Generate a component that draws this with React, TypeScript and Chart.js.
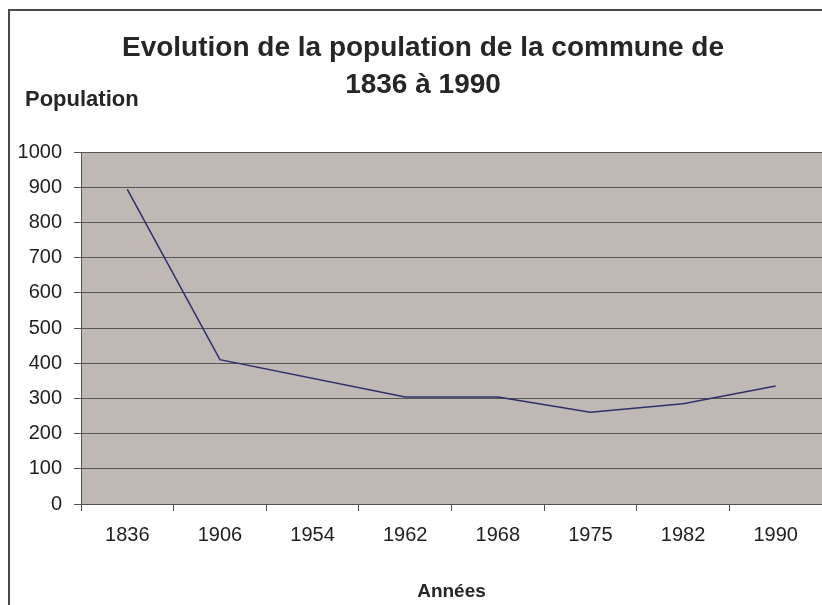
import React, { useEffect, useRef } from "react";
import { Chart, registerables } from "chart.js";

Chart.register(...registerables);

const years = ["1836", "1906", "1954", "1962", "1968", "1975", "1982", "1990"];
const population: (number | null)[] = [894, 410, null, 304, 304, 261, 285, 335];
const yMin = 0;
const yMax = 1000;
const yStep = 100;
const titleLines = ["Evolution de la population de la commune de", "1836 à 1990"];
const yAxisTitle = "Population";
const xAxisTitle = "Années";

const FONT = "'Liberation Sans', Arial, Helvetica, sans-serif";

export default function App() {
  const ref = useRef<HTMLCanvasElement>(null);

  useEffect(() => {
    const canvas = ref.current!;
    const decor = {
      id: "decor",
      beforeDraw(chart: any) {
        const { ctx, chartArea } = chart;
        ctx.save();
        ctx.fillStyle = "#ffffff";
        ctx.fillRect(0, 0, chart.width, chart.height);
        ctx.fillStyle = "#C0B8B5";
        ctx.fillRect(
          chartArea.left,
          chartArea.top,
          chartArea.right - chartArea.left,
          chartArea.bottom - chartArea.top
        );
        ctx.restore();
      },
      afterDraw(chart: any) {
        const { ctx, chartArea } = chart;
        ctx.save();
        ctx.strokeStyle = "#4a4a4a";
        ctx.lineWidth = 2;
        ctx.beginPath();
        ctx.moveTo(9, 605);
        ctx.lineTo(9, 10);
        ctx.lineTo(822, 10);
        ctx.stroke();

        ctx.fillStyle = "#262626";
        ctx.textBaseline = "alphabetic";
        ctx.textAlign = "center";
        ctx.font = `bold 28px ${FONT}`;
        ctx.fillText(titleLines[0], 423, 56);
        ctx.fillText(titleLines[1], 423, 93);

        ctx.textAlign = "left";
        ctx.font = `bold 22px ${FONT}`;
        ctx.fillText(yAxisTitle, 25, 106);

        ctx.textAlign = "center";
        ctx.font = `bold 19px ${FONT}`;
        ctx.fillText(xAxisTitle, (chartArea.left + chartArea.right) / 2, 597);
        ctx.restore();
      },
    };

    const chart = new Chart(canvas, {
      type: "line",
      data: {
        labels: years,
        datasets: [
          {
            label: yAxisTitle,
            data: population,
            borderColor: "#2f2f6e",
            borderWidth: 1.5,
            pointRadius: 0,
            pointHoverRadius: 0,
            tension: 0,
            spanGaps: true,
            fill: false,
          },
        ],
      },
      options: {
        responsive: false,
        animation: false,
        events: [],
        layout: { padding: { top: 152, right: 0, bottom: 0, left: 0 } },
        plugins: {
          legend: { display: false },
          title: { display: false },
          tooltip: { enabled: false },
        },
        scales: {
          x: {
            type: "category",
            offset: true,
            grid: {
              offset: true,
              drawOnChartArea: false,
              drawTicks: true,
              tickLength: 7,
              color: "#555555",
            },
            border: { display: true, color: "#555555", width: 1 },
            ticks: {
              font: { family: FONT, size: 20 },
              color: "#1e1e1e",
              padding: 12,
              maxRotation: 0,
              autoSkip: false,
            },
            afterFit(scale: any) {
              scale.height = 101;
            },
          },
          y: {
            min: yMin,
            max: yMax,
            grid: {
              color: "#555555",
              drawTicks: true,
              tickLength: 7,
            },
            border: { display: true, color: "#555555", width: 1 },
            ticks: {
              stepSize: yStep,
              font: { family: FONT, size: 20 },
              color: "#1e1e1e",
              padding: 12,
              callback: (v: any) => String(v),
            },
            afterFit(scale: any) {
              scale.width = 81;
            },
          },
        },
      },
      plugins: [decor],
    });
    return () => chart.destroy();
  }, []);

  return (
    <div style={{ position: "absolute", left: 0, top: 0, width: 822, height: 605, overflow: "hidden" }}>
      <canvas ref={ref} width={822} height={605} style={{ display: "block", width: 822, height: 605 }} />
    </div>
  );
}
